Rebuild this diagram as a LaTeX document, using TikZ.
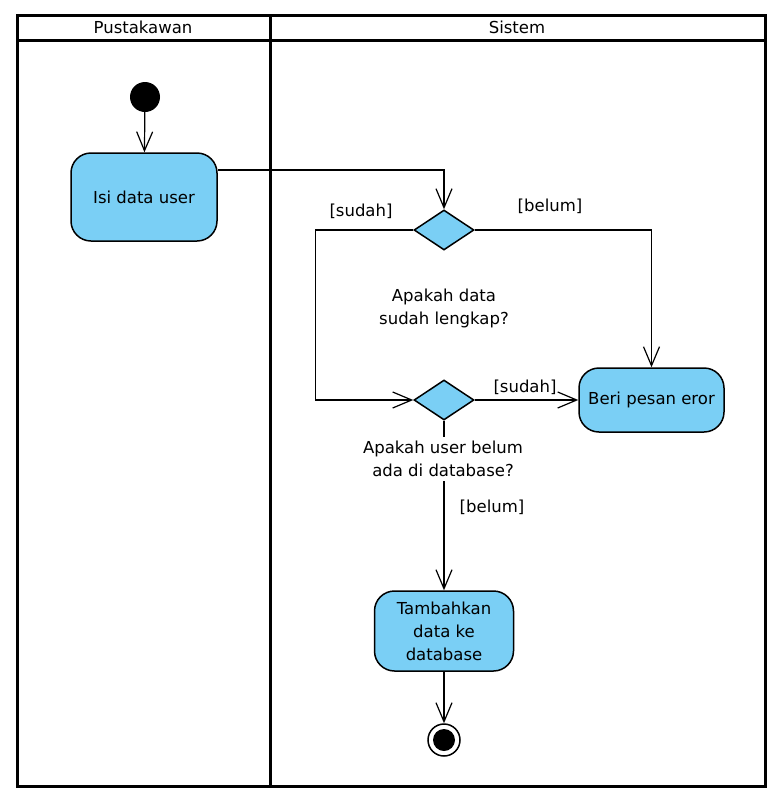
\documentclass[tikz,border=0pt]{standalone}
\usepackage{fontspec}
\setmainfont{DejaVu Sans}
\usetikzlibrary{arrows.meta,shapes.geometric}
\definecolor{actblue}{RGB}{122,207,245}
\tikzset{
  x=1pt, y=-1pt,
  every node/.style={font=\fontsize{16.5}{23}\selectfont, inner sep=0pt},
  action/.style={draw, line width=1.5pt, fill=actblue, rounded corners=20pt, align=center},
  decision/.style={draw, line width=1.5pt, fill=actblue, diamond, minimum width=60pt, minimum height=40pt},
  flow/.style={line width=1.2pt, -{Straight Barb[length=19pt,width=16pt,line width=1.2pt]}},
  lane/.style={line width=3pt},
  guard/.style={},
  note/.style={align=center}
}
\begin{document}
\begin{tikzpicture}
\useasboundingbox (0,0) rectangle (782,804);
% swimlanes
\draw[lane] (17,15) rectangle (765,786);
\draw[lane] (17,40) -- (765,40);
\draw[lane] (270,15) -- (270,786);
\node (h1) at (143,27) {Pustakawan};
\node (h2) at (517,27) {Sistem};
% nodes
\node[circle, fill=black, minimum size=30pt] (start) at (145,97) {};
\node[action, minimum width=146pt, minimum height=88pt] (isi) at (144,197) {Isi data user};
\node[decision] (d1) at (444,230) {};
\node[decision] (d2) at (444,400) {};
\node[action, minimum width=145pt, minimum height=64pt] (eror) at (651.5,400) {Beri pesan eror};
\node[action, minimum width=139pt, minimum height=80pt] (tambah) at (444,631) {Tambahkan\\data ke\\database};
\node[circle, draw, line width=1.5pt, fill=white, minimum size=32pt] (end) at (444,740) {};
\node[circle, fill=black, minimum size=22pt] (endin) at (end) {};
% connectors
\draw[flow] (start) -- (isi);
\draw[flow] (isi.east) ++(0,-27) -| (d1.north);
\draw[flow] (d1.west) -- ++(-98,0) |- (d2.west);
\draw[flow] (d1.east) -| (eror.north);
\draw[flow] (d2.east) -- (eror.west);
\draw[flow] (d2.south) -- (tambah.north);
\draw[flow] (tambah.south) -- (end.north);
% labels
\node[guard] (g1) at (361,211) {[sudah]};
\node[guard] (g2) at (550,206) {[belum]};
\node[guard] (g3) at (525,387) {[sudah]};
\node[guard] (g4) at (492,507) {[belum]};
\node[note] (q1) at (444,308) {Apakah data\\sudah lengkap?};
\node[note, fill=white, inner ysep=4pt, inner xsep=2pt] (q2) at (443,459) {Apakah user belum\\ada di database?};
\end{tikzpicture}
\end{document}
